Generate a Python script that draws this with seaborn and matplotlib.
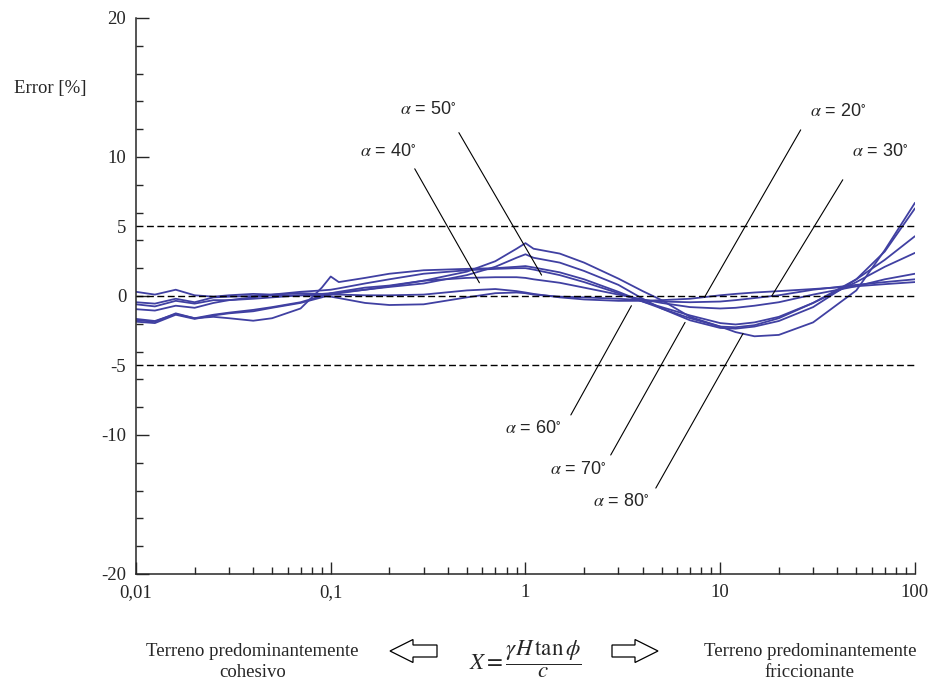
import numpy as np
import pandas as pd
import matplotlib.pyplot as plt
import matplotlib.ticker as mticker
from matplotlib.patches import FancyArrow
import seaborn as sns

sns.set_style('ticks')
plt.rcParams['font.family'] = ['Liberation Serif', 'DejaVu Serif']
plt.rcParams['mathtext.fontset'] = 'stix'

# X = gamma H tan(phi) / c
x_vals = [0.01, 0.0125, 0.016, 0.02, 0.025, 0.03, 0.04, 0.05, 0.07, 0.09, 0.1, 0.11,
          0.15, 0.2, 0.3, 0.5, 0.7, 0.9, 1.0, 1.1, 1.5, 2, 3, 4, 5, 7, 10, 12, 15,
          20, 30, 50, 70, 100]

# error [%] for each slope angle alpha
err_20 = [0.3, 0.1, 0.45, 0.05, -0.05, 0.05, 0.15, 0.1, 0.2, 0.15, 0.1, 0.1,
          0.05, 0.05, 0.1, 0.4, 0.5, 0.35, 0.25, 0.15, -0.1, -0.25, -0.35, -0.35, -0.3, -0.2, 0.05, 0.15, 0.25,
          0.35, 0.5, 0.7, 0.85, 1.0]
err_30 = [-0.45, -0.55, -0.2, -0.45, -0.1, -0.05, 0.0, 0.05, 0.05, 0.0, -0.05, -0.15,
          -0.5, -0.65, -0.6, -0.1, 0.2, 0.25, 0.2, 0.1, -0.05, -0.1, -0.2, -0.3, -0.4, -0.45, -0.4, -0.3, -0.15,
          0.05, 0.45, 0.8, 1.0, 1.2]
err_40 = [-0.6, -0.75, -0.35, -0.55, -0.3, -0.3, -0.2, -0.1, 0.05, 0.15, 0.2, 0.25,
          0.45, 0.7, 1.1, 1.3, 1.35, 1.35, 1.3, 1.2, 0.95, 0.6, 0.1, -0.25, -0.5, -0.8, -0.9, -0.85, -0.7,
          -0.45, 0.1, 0.7, 1.2, 1.6]
err_50 = [-0.95, -1.05, -0.7, -0.85, -0.5, -0.3, -0.1, 0.1, 0.3, 0.4, 0.45, 0.55,
          0.9, 1.2, 1.6, 1.85, 1.95, 2.0, 2.0, 1.9, 1.5, 1.0, 0.2, -0.4, -0.8, -1.4, -1.95, -2.05, -1.9,
          -1.5, -0.5, 1.0, 2.1, 3.1]
err_60 = [-1.65, -1.8, -1.3, -1.6, -1.5, -1.6, -1.78, -1.6, -0.9, 0.6, 1.4, 1.0,
          1.3, 1.6, 1.85, 1.95, 2.0, 2.1, 2.15, 2.05, 1.7, 1.2, 0.3, -0.4, -0.9, -1.6, -2.2, -2.25, -2.1,
          -1.6, -0.5, 1.2, 2.6, 4.3]
err_70 = [-1.85, -1.95, -1.35, -1.65, -1.4, -1.25, -1.1, -0.85, -0.5, -0.1, 0.1, 0.2,
          0.45, 0.65, 0.9, 1.5, 2.1, 2.75, 3.0, 2.75, 2.4, 1.8, 0.8, -0.2, -0.9, -1.75, -2.3, -2.35, -2.2,
          -1.8, -0.8, 1.2, 3.2, 6.3]
err_80 = [-1.75, -1.85, -1.25, -1.6, -1.35, -1.2, -1.0, -0.8, -0.45, 0.0, 0.2, 0.3,
          0.6, 0.75, 1.1, 1.75, 2.5, 3.4, 3.8, 3.4, 3.05, 2.4, 1.25, 0.35, -0.3, -1.5, -2.2, -2.6, -2.9,
          -2.8, -1.9, 0.4, 3.3, 6.7]

alphas = [20, 30, 40, 50, 60, 70, 80]
series = [err_20, err_30, err_40, err_50, err_60, err_70, err_80]

# label text position, leader-line start and point on the curve (data coords)
label_text = [(40.2, 13.3), (66.7, 10.4), (0.197, 10.4), (0.316, 13.4), (1.10, -9.5), (1.86, -12.45), (3.09, -14.8)]
label_from = [(25.9, 11.95), (42.6, 8.36), (0.270, 9.15), (0.455, 11.75), (1.71, -8.56), (2.74, -11.44), (4.67, -13.82)]
label_to = [(8.3, -0.1), (18.4, 0.0), (0.58, 0.95), (1.21, 1.5), (3.5, -0.7), (6.6, -1.9), (13.1, -2.7)]

ref_levels = [5, 0, -5]
x_ticks = [0.01, 0.1, 1, 10, 100]
x_ticklabels = ['0,01', '0,1', '1', '10', '100']
y_ticks = [-20, -10, -5, 0, 5, 10, 20]

line_color = '#4040a2'

df = pd.DataFrame({
    'X': np.tile(x_vals, len(alphas)),
    'error': np.concatenate(series),
    'alpha': np.repeat(alphas, len(x_vals)),
})

fig = plt.figure(figsize=(9.34, 6.83), dpi=100)
ax = fig.add_axes([0.1456, 0.1596, 0.834, 0.8141])

sns.lineplot(data=df, x='X', y='error', hue='alpha', estimator=None,
             palette={a: line_color for a in alphas}, legend=False,
             linewidth=1.3, ax=ax)

for lv in ref_levels:
    ax.axhline(lv, color='black', lw=1, ls=(0, (5, 2.5)), zorder=3)

ax.set_xscale('log')
ax.set_xlim(0.01, 100)
ax.set_ylim(-20, 20)
ax.set_xticks(x_ticks)
ax.set_xticklabels(x_ticklabels)
ax.xaxis.set_minor_locator(mticker.LogLocator(base=10, subs=np.arange(2, 10)))
ax.xaxis.set_minor_formatter(mticker.NullFormatter())
ax.set_yticks(y_ticks)
ax.set_yticklabels([str(v) for v in y_ticks])
ax.yaxis.set_minor_locator(mticker.MultipleLocator(2))
ax.tick_params(which='major', direction='in', length=9, width=1, labelsize=13.5, pad=7)
ax.tick_params(which='minor', direction='in', length=5, width=1)
for loc, tk in zip(ax.get_yticks(), ax.yaxis.get_major_ticks()):
    if abs(loc) == 5:
        tk.tick1line.set_visible(False)
ax.set_xlabel('')
ax.set_ylabel('')
sns.despine(ax=ax)
for sp in ['left', 'bottom']:
    ax.spines[sp].set_linewidth(1.1)

for a, tp, fp, to in zip(alphas, label_text, label_from, label_to):
    ax.annotate('', xy=to, xytext=fp,
                arrowprops=dict(arrowstyle='-', lw=0.8, color='black', shrinkA=0, shrinkB=0))
    ax.text(tp[0], tp[1], r'$\alpha$ = %d$^{\circ}$' % a, ha='center', va='center',
            fontsize=13, family=['Liberation Sans', 'DejaVu Sans'])

fig.text(0.0535, 0.871, 'Error [%]', ha='center', va='center', fontsize=13.5)

fig.text(0.27, 0.031, 'Terreno predominantemente\ncohesivo', ha='center', va='center',
         fontsize=13.5, linespacing=1.3)
fig.text(0.867, 0.031, 'Terreno predominantemente\nfriccionante', ha='center', va='center',
         fontsize=13.5, linespacing=1.3)
fig.text(0.562, 0.034, r'$X = \dfrac{\gamma H\,\tan\phi}{c}$', ha='center', va='center', fontsize=16.5)

fig.add_artist(FancyArrow(4.37, 0.32, -0.47, 0, width=0.12, head_width=0.23, head_length=0.23,
                          length_includes_head=True, transform=fig.dpi_scale_trans,
                          facecolor='white', edgecolor='black', lw=0.9))
fig.add_artist(FancyArrow(6.12, 0.32, 0.46, 0, width=0.12, head_width=0.23, head_length=0.23,
                          length_includes_head=True, transform=fig.dpi_scale_trans,
                          facecolor='white', edgecolor='black', lw=0.9))

fig.savefig('out.png', dpi=100)
